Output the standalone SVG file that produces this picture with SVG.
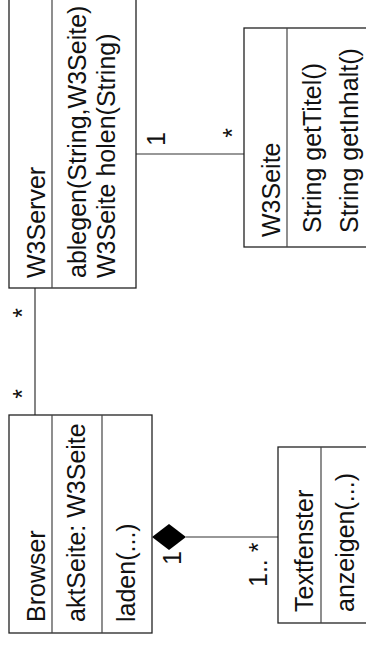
<svg xmlns="http://www.w3.org/2000/svg" width="366" height="652" viewBox="0 0 366 652">
<style>
.box{fill:#fff;stroke:#222;stroke-width:1.3}
.div{stroke:#444;stroke-width:1.2}
.con{stroke:#333;stroke-width:1.2;fill:none}
text{font-family:"Liberation Sans",Arial,Helvetica,sans-serif;font-size:25px;fill:#111}
</style>
<rect width="366" height="652" fill="#fff"/>
<g id="connectors">
<line class="con" x1="35" y1="288" x2="35" y2="415"/>
<line class="con" x1="136" y1="154" x2="244" y2="154"/>
<line class="con" x1="186" y1="537" x2="278" y2="537"/>
<polygon points="152,537 169,524 186,537 169,550" fill="#000"/>
<text transform="translate(31,313) rotate(-90)" text-anchor="middle">*</text>
<text transform="translate(31,394) rotate(-90)" text-anchor="middle">*</text>
<text transform="translate(165,139) rotate(-90)" text-anchor="middle">1</text>
<text transform="translate(241,133) rotate(-90)" text-anchor="middle">*</text>
<text transform="translate(181,558) rotate(-90)" text-anchor="middle">1</text>
<text transform="translate(267,587) rotate(-90)">1.. *</text>
</g>
<g id="W3Server">
<rect class="box" x="9" y="-5" width="127" height="293"/>
<line class="div" x1="52" y1="-5" x2="52" y2="288"/>
<text transform="translate(45,278) rotate(-90)">W3Server</text>
<text transform="translate(86,278) rotate(-90)">ablegen(String,W3Seite)</text>
<text transform="translate(115,278) rotate(-90)">W3Seite holen(String)</text>
</g>
<g id="W3Seite">
<rect class="box" x="244" y="28" width="130" height="219"/>
<line class="div" x1="287" y1="28" x2="287" y2="247"/>
<text transform="translate(280,237) rotate(-90)">W3Seite</text>
<text transform="translate(321,233) rotate(-90)">String getTitel()</text>
<text transform="translate(358,233) rotate(-90)">String getInhalt()</text>
</g>
<g id="Browser">
<rect class="box" x="9" y="415" width="143" height="218"/>
<line class="div" x1="52" y1="415" x2="52" y2="633"/>
<line class="div" x1="102" y1="415" x2="102" y2="633"/>
<text transform="translate(45,622) rotate(-90)">Browser</text>
<text transform="translate(85,622) rotate(-90)">aktSeite: W3Seite</text>
<text transform="translate(135,622) rotate(-90)">laden(...)</text>
</g>
<g id="Textfenster">
<rect class="box" x="278" y="447" width="96" height="176"/>
<line class="div" x1="321" y1="447" x2="321" y2="623"/>
<text transform="translate(313,612) rotate(-90)">Textfenster</text>
<text transform="translate(354,612) rotate(-90)">anzeigen(...)</text>
</g>
</svg>
